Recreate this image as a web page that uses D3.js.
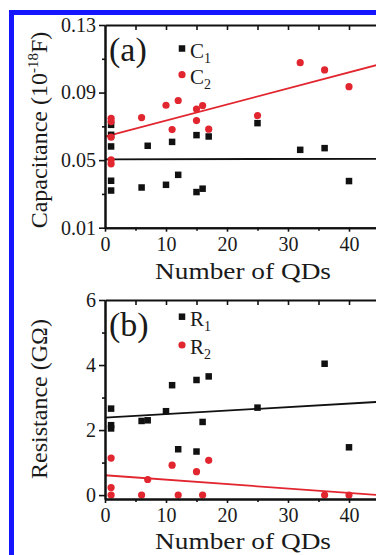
<!DOCTYPE html>
<html lang="en">
<head>
    <meta charset="UTF-8">
    <title>Capacitance and Resistance vs Number of QDs</title>
    <script src="https://d3js.org/d3.v7.min.js"></script>
    <style>
        html, body {
            margin: 0;
            padding: 0;
            overflow: hidden;
            background: #fff;
        }
        svg, svg text {
            font-family: "Liberation Serif", "Times New Roman", Times, "DejaVu Serif", serif;
            fill: #1a1a1a;
        }
        .axis path, .axis line {
            stroke: #111;
        }
    </style>
</head>
<body>
    <script>
        // Data
        const xTicksMajor = [0, 10, 20, 30, 40];
        const xTicksMinor = [5, 15, 25, 35];

        // panel (a): capacitance (10^-18 F)
        const c1X = [1, 1, 1, 1, 1, 6, 7, 10, 11, 12, 15, 15, 16, 17, 25, 32, 36, 40];
        const c1Y = [0.0709, 0.065, 0.0581, 0.0378, 0.032, 0.0338, 0.0585, 0.0354, 0.0608, 0.0413,
                     0.0648, 0.0311, 0.0331, 0.064, 0.0719, 0.0561, 0.0571, 0.0376];
        const c2X = [1, 1, 1, 1, 1, 6, 10, 11, 12, 15, 15, 16, 17, 25, 32, 36, 40];
        const c2Y = [0.0748, 0.0728, 0.0636, 0.0502, 0.0478, 0.0752, 0.0825, 0.0681, 0.0853,
                     0.0802, 0.0734, 0.0823, 0.0683, 0.0764, 0.1077, 0.1034, 0.0935];
        const fitC1 = [[0, 0.0505], [45, 0.0508]];
        const fitC2 = [[0, 0.0639], [45, 0.1067]];
        const capTicksMajor = [0.01, 0.05, 0.09, 0.13];
        const capTicksMinor = [0.03, 0.07, 0.11];

        // panel (b): resistance (GOhm)
        const r1X = [1, 1, 1, 6, 7, 10, 11, 12, 15, 15, 16, 17, 25, 36, 40];
        const r1Y = [2.66, 2.15, 2.05, 2.28, 2.3, 2.58, 3.38, 1.41, 3.54, 1.34, 2.25, 3.65, 2.69, 4.04, 1.47];
        const r2X = [1, 1, 1, 6, 7, 11, 12, 15, 16, 17, 36, 40];
        const r2Y = [1.14, 0.23, 0.0, 0.0, 0.48, 0.92, 0.0, 0.72, 0.0, 1.07, 0.0, 0.0];
        const fitR1 = [[0, 2.38], [45, 2.87]];
        const fitR2 = [[0, 0.61], [45, 0.0]];
        const resTicksMajor = [0, 2, 4, 6];
        const resTicksMinor = [1, 3, 5];

        const RED = "#e2262f";
        const BLACK = "#111";
        const SERIF = "'Liberation Serif', 'Times New Roman', Times, 'DejaVu Serif', serif";

        const W = 376, H = 555;
        const svg = d3.select("body").append("svg")
            .attr("width", W)
            .attr("height", H);

        // blue frame (only top and left edges are visible)
        svg.append("rect").attr("x", 9).attr("y", 10).attr("width", W - 9).attr("height", 5).attr("fill", "#1515ff");
        svg.append("rect").attr("x", 9).attr("y", 10).attr("width", 5).attr("height", H - 10).attr("fill", "#1515ff");

        // shared x scale
        const x = d3.scaleLinear().domain([0, 45]).range([105, 379.5]);

        function styleAxis(g) {
            g.attr("class", "axis").style("font-family", SERIF);
            g.select(".domain").attr("stroke-width", 2);
            g.selectAll(".tick line").attr("stroke-width", 1.6);
            g.selectAll(".tick text")
                .style("font-family", SERIF)
                .attr("font-size", 20)
                .attr("fill", "#1a1a1a");
        }

        function drawPanel(p) {
            const y = p.y;
            const [yBottom, yTop] = y.range();

            // fit lines first, points on top
            const line = d3.line().x(d => x(d[0])).y(d => y(d[1]));
            svg.append("path").datum(p.fit1).attr("d", line)
                .attr("fill", "none").attr("stroke", BLACK).attr("stroke-width", 1.8);
            svg.append("path").datum(p.fit2).attr("d", line)
                .attr("fill", "none").attr("stroke", RED).attr("stroke-width", 1.8);

            const s = 6.5;
            svg.append("g").selectAll("rect")
                .data(d3.zip(p.s1x, p.s1y))
                .join("rect")
                .attr("x", d => x(d[0]) - s / 2)
                .attr("y", d => y(d[1]) - s / 2)
                .attr("width", s).attr("height", s)
                .attr("fill", BLACK);

            svg.append("g").selectAll("circle")
                .data(d3.zip(p.s2x, p.s2y))
                .join("circle")
                .attr("cx", d => x(d[0]))
                .attr("cy", d => y(d[1]))
                .attr("r", 3.6)
                .attr("fill", RED);

            // bottom axis: major + minor ticks, outward
            svg.append("g").attr("transform", `translate(0,${yBottom})`)
                .call(d3.axisBottom(x).tickValues(xTicksMinor).tickSize(3).tickSizeOuter(0).tickFormat(""))
                .call(styleAxis);
            svg.append("g").attr("transform", `translate(0,${yBottom})`)
                .call(d3.axisBottom(x).tickValues(xTicksMajor).tickSize(4).tickPadding(5).tickSizeOuter(0).tickFormat(d3.format("d")))
                .call(styleAxis);

            // top axis: ticks point inward
            svg.append("g").attr("transform", `translate(0,${yTop})`)
                .call(d3.axisBottom(x).tickValues(xTicksMajor.concat(xTicksMinor).filter(v => v > 0))
                    .tickSize(5).tickSizeOuter(0).tickFormat(""))
                .call(styleAxis);

            // left axis
            svg.append("g").attr("transform", `translate(${x(0)},0)`)
                .call(d3.axisLeft(y).tickValues(p.minor).tickSize(3).tickSizeOuter(0).tickFormat(""))
                .call(styleAxis);
            svg.append("g").attr("transform", `translate(${x(0)},0)`)
                .call(d3.axisLeft(y).tickValues(p.major).tickSize(6).tickPadding(3).tickSizeOuter(0).tickFormat(p.fmt))
                .call(styleAxis);

            // panel label
            svg.append("text").attr("x", 109).attr("y", yTop + 36)
                .attr("font-size", 34).text(p.label);

            // legend
            const lx = 182;
            svg.append("rect").attr("x", lx - s / 2).attr("y", p.legY[0] - s / 2)
                .attr("width", s).attr("height", s).attr("fill", BLACK);
            svg.append("circle").attr("cx", lx).attr("cy", p.legY[1]).attr("r", 3.6).attr("fill", RED);
            p.legNames.forEach((n, i) => {
                const t = svg.append("text").attr("x", lx + 8).attr("y", p.legY[i] + 9)
                    .attr("font-size", 21);
                t.append("tspan").text(n);
                t.append("tspan").attr("dy", 5).attr("font-size", 14).text(String(i + 1));
            });

            // x title
            svg.append("text").attr("x", 243).attr("y", p.xTitleY)
                .attr("text-anchor", "middle").attr("font-size", 24)
                .attr("textLength", 176).attr("lengthAdjust", "spacingAndGlyphs")
                .text("Number of QDs");

            // y title
            const yt = svg.append("text")
                .attr("transform", `translate(47,${p.yTitleY}) rotate(-90)`)
                .attr("text-anchor", "middle").attr("font-size", 24);
            p.yTitle(yt);
        }

        // panel (a)
        drawPanel({
            y: d3.scaleLinear().domain([0.01, 0.13]).range([227.7, 25]),
            s1x: c1X, s1y: c1Y, s2x: c2X, s2y: c2Y,
            fit1: fitC1, fit2: fitC2,
            major: capTicksMajor, minor: capTicksMinor, fmt: d3.format(".2f"),
            label: "(a)", legNames: ["C", "C"], legY: [48.5, 74.7],
            xTitleY: 279,
            yTitleY: 130,
            yTitle: t => {
                t.append("tspan").text("Capacitance (10");
                t.append("tspan").attr("dy", -9).attr("font-size", 15).text("-18");
                t.append("tspan").attr("dy", 9).text("F)");
            }
        });

        // panel (b)
        drawPanel({
            y: d3.scaleLinear().domain([-0.12, 6]).range([499, 300]),
            s1x: r1X, s1y: r1Y, s2x: r2X, s2y: r2Y,
            fit1: fitR1, fit2: fitR2,
            major: resTicksMajor, minor: resTicksMinor, fmt: d3.format("d"),
            label: "(b)", legNames: ["R", "R"], legY: [316.7, 345],
            xTitleY: 549,
            yTitleY: 399,
            yTitle: t => t.text("Resistance (G\u03A9)")
        });
    </script>
</body>
</html>
